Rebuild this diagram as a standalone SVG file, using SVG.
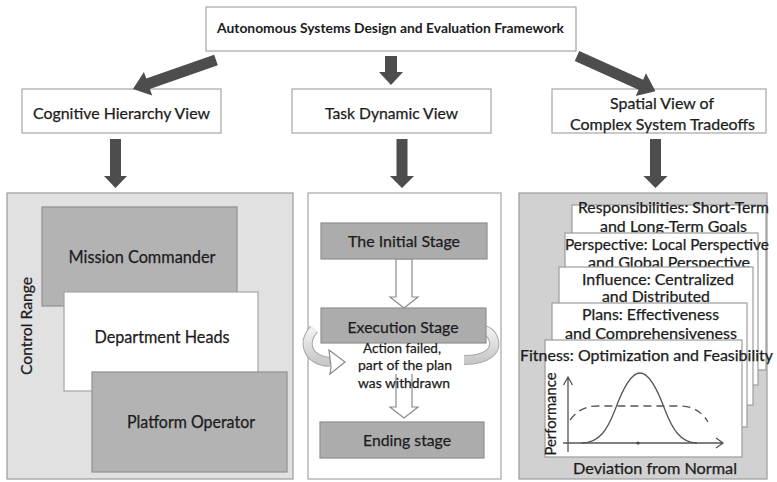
<svg xmlns="http://www.w3.org/2000/svg" width="777" height="482" viewBox="0 0 777 482">
  <style>
    text { font-family: Lato, "Open Sans", "Liberation Sans", sans-serif; fill: #1c1c1c; stroke: #1c1c1c; stroke-width: 0.25; text-anchor: middle; dominant-baseline: central; }
    .title { font-size: 14px; font-weight: bold; stroke-width: 0; }
    .view { font-size: 16px; }
    .role { font-size: 17px; }
    .stage { font-size: 16px; }
    .note { font-size: 13.5px; }
    .card-t { font-size: 14.5px; }
    .box { fill: #fff; stroke: #a6a6a6; stroke-width: 1.2; }
    .dark { fill: #b3b3b3; stroke: #8f8f8f; stroke-width: 1.2; }
    .stagebox { fill: #acacac; stroke: #8f8f8f; stroke-width: 1.2; }
    .card { fill: #fff; stroke: #9c9c9c; stroke-width: 1.2; }
    .block { fill: #4d4d4d; }
    .hollow { fill: #fff; stroke: #8a8a8a; stroke-width: 1.2; }
    .axis { fill: none; stroke: #555; stroke-width: 1.3; }
  </style>
  <defs>
    <linearGradient id="bandGrad" x1="0" y1="0" x2="0" y2="1">
      <stop offset="0" stop-color="#f2f2f2"/>
      <stop offset="1" stop-color="#c9c9c9"/>
    </linearGradient>
  </defs>

  <rect width="777" height="482" fill="#fff"/>

  <!-- top node -->
  <g id="framework">
    <rect class="box" x="206" y="7" width="370" height="44"/>
    <text class="title" x="390.5" y="27" textLength="347" lengthAdjust="spacingAndGlyphs">Autonomous Systems Design and Evaluation Framework</text>
  </g>

  <!-- second level -->
  <g id="cognitive-view">
    <rect class="box" x="22" y="89" width="199" height="44"/>
    <text class="view" x="121.5" y="112" textLength="177" lengthAdjust="spacingAndGlyphs">Cognitive Hierarchy View</text>
  </g>
  <g id="task-view">
    <rect class="box" x="292" y="89" width="199" height="44"/>
    <text class="view" x="391.5" y="112" textLength="133" lengthAdjust="spacingAndGlyphs">Task Dynamic View</text>
  </g>
  <g id="spatial-view">
    <rect class="box" x="552" y="89" width="214" height="44"/>
    <text class="view" x="662" y="102" textLength="104" lengthAdjust="spacingAndGlyphs">Spatial View of</text>
    <text class="view" x="662.5" y="123" textLength="185" lengthAdjust="spacingAndGlyphs">Complex System Tradeoffs</text>
  </g>

  <!-- connectors: solid block arrows -->
  <g id="connectors">
    <polygon class="block" transform="translate(216,60) rotate(160.7)" points="0,-5.5 72,-5.5 72,-12.5 88,0 72,12.5 72,5.5 0,5.5"/>
    <polygon class="block" transform="translate(391,56)" points="-6,0 6,0 6,16 12,16 0,29 -12,16 -6,16"/>
    <polygon class="block" transform="translate(577,56) rotate(24.2)" points="0,-5.5 70,-5.5 70,-12.5 86,0 70,12.5 70,5.5 0,5.5"/>
    <polygon class="block" transform="translate(115.5,139)" points="-5.5,0 5.5,0 5.5,37 11.5,37 0,49 -11.5,37 -5.5,37"/>
    <polygon class="block" transform="translate(402,139)" points="-5.5,0 5.5,0 5.5,37 12,37 0,49 -12,37 -5.5,37"/>
    <polygon class="block" transform="translate(655.5,139)" points="-5.5,0 5.5,0 5.5,37 12,37 0,49 -12,37 -5.5,37"/>
  </g>

  <!-- cognitive hierarchy panel -->
  <g id="hierarchy-panel">
    <rect x="7" y="193" width="286" height="286" fill="#e1e1e1" stroke="#9c9c9c" stroke-width="1.2"/>
    <text class="view" x="25" y="326" transform="rotate(-90 25 326)" textLength="98" lengthAdjust="spacingAndGlyphs">Control Range</text>
  </g>
  <g id="mission-commander">
    <rect class="dark" x="42" y="207" width="195" height="99"/>
    <text class="role" x="142" y="256" textLength="147" lengthAdjust="spacingAndGlyphs">Mission Commander</text>
  </g>
  <g id="department-heads">
    <rect class="box" x="64" y="292" width="194" height="99"/>
    <text class="role" x="162" y="336" textLength="135" lengthAdjust="spacingAndGlyphs">Department Heads</text>
  </g>
  <g id="platform-operator">
    <rect class="dark" x="92" y="372" width="195" height="100"/>
    <text class="role" x="191" y="421" textLength="128" lengthAdjust="spacingAndGlyphs">Platform Operator</text>
  </g>

  <!-- task dynamic panel -->
  <g id="task-panel">
    <rect x="308" y="193" width="193" height="286" fill="#fff" stroke="#a6a6a6" stroke-width="1.2"/>
  </g>
  <g id="stage-arrows">
    <polygon class="hollow" points="396,259 412,259 412,297 418,297 404,308 390,297 396,297"/>
    <path class="hollow" d="M396,374 V407 H390 L404,418 L418,407 H412 V374"/>
    <!-- loop-back arrows around the execution stage -->
    <path d="M314,329 C302,343 307,360 330,362" fill="none" stroke="#a8a8a8" stroke-width="10"/>
    <path d="M314,329 C302,343 307,360 330,362" fill="none" stroke="url(#bandGrad)" stroke-width="8"/>
    <polygon class="hollow" points="329,350 345,362 330,374 331,367"/>
    <path d="M464,360 C488,360 498,350 493,338 C490,331 484,329 476,329" fill="none" stroke="#a8a8a8" stroke-width="10"/>
    <path d="M464,360 C488,360 498,350 493,338 C490,331 484,329 476,329" fill="none" stroke="url(#bandGrad)" stroke-width="8"/>
    <polygon class="hollow" points="476,318 457,329 478,341 476,333"/>
  </g>
  <g id="initial-stage">
    <rect class="stagebox" x="321" y="223" width="166" height="36"/>
    <text class="stage" x="404" y="240" textLength="112" lengthAdjust="spacingAndGlyphs">The Initial Stage</text>
  </g>
  <g id="execution-stage">
    <rect class="stagebox" x="321" y="308" width="165" height="35"/>
    <text class="stage" x="403" y="326" textLength="111" lengthAdjust="spacingAndGlyphs">Execution Stage</text>
    <text class="note" x="402" y="348" textLength="78" lengthAdjust="spacingAndGlyphs">Action failed,</text>
    <text class="note" x="405" y="365" textLength="94" lengthAdjust="spacingAndGlyphs">part of the plan</text>
    <text class="note" x="404" y="383" textLength="92" lengthAdjust="spacingAndGlyphs">was withdrawn</text>
  </g>
  <g id="ending-stage">
    <rect class="stagebox" x="320" y="422" width="164" height="36"/>
    <text class="stage" x="407" y="439" textLength="88" lengthAdjust="spacingAndGlyphs">Ending stage</text>
  </g>

  <!-- spatial tradeoff panel -->
  <g id="tradeoff-panel">
    <rect x="519" y="193" width="248" height="286" fill="#d1d1d1" stroke="#9c9c9c" stroke-width="1.2"/>
  </g>
  <g id="responsibilities">
    <rect class="card" x="572" y="205" width="194" height="165"/>
    <text class="card-t" x="673.5" y="207" textLength="191" lengthAdjust="spacingAndGlyphs">Responsibilities: Short-Term</text>
    <text class="card-t" x="673.5" y="226" textLength="147" lengthAdjust="spacingAndGlyphs">and Long-Term Goals</text>
  </g>
  <g id="perspective">
    <rect class="card" x="565" y="233" width="193" height="152"/>
    <text class="card-t" x="667" y="244" textLength="204" lengthAdjust="spacingAndGlyphs">Perspective: Local Perspective</text>
    <text class="card-t" x="669" y="262" textLength="162" lengthAdjust="spacingAndGlyphs">and Global Perspective</text>
  </g>
  <g id="influence">
    <rect class="card" x="559" y="267" width="194" height="138"/>
    <text class="card-t" x="658" y="279" textLength="152" lengthAdjust="spacingAndGlyphs">Influence: Centralized</text>
    <text class="card-t" x="656" y="296" textLength="108" lengthAdjust="spacingAndGlyphs">and Distributed</text>
  </g>
  <g id="plans">
    <rect class="card" x="552" y="303" width="195" height="124"/>
    <text class="card-t" x="650.5" y="314" textLength="137" lengthAdjust="spacingAndGlyphs">Plans: Effectiveness</text>
    <text class="card-t" x="651" y="333" textLength="172" lengthAdjust="spacingAndGlyphs">and Comprehensiveness</text>
  </g>
  <g id="fitness">
    <rect class="card" x="545" y="340" width="197" height="117"/>
    <text class="card-t" x="646.5" y="355" textLength="253" lengthAdjust="spacingAndGlyphs">Fitness: Optimization and Feasibility</text>
    <!-- performance plot -->
    <path class="axis" d="M568,452 V377 M563.5,385 L568,377 L572.5,385"/>
    <path class="axis" d="M563,443 H723 M716,438 L723,443 L716,448"/>
    <circle cx="638" cy="443" r="1.6" fill="#444"/>
    <path class="axis" d="M582,443 C600,443 608,428 615,410 C623,388 632,373 640,373 C648,373 657,388 665,410 C672,428 680,443 697,443"/>
    <path class="axis" stroke-dasharray="8,5" d="M570,420 C578,410 585,406 598,406 L680,406 C693,406 702,412 708,422"/>
    <text class="card-t" x="550" y="414" transform="rotate(-90 550 414)" textLength="83" lengthAdjust="spacingAndGlyphs">Performance</text>
    <text class="view" x="655" y="467" textLength="164" lengthAdjust="spacingAndGlyphs">Deviation from Normal</text>
  </g>
</svg>
